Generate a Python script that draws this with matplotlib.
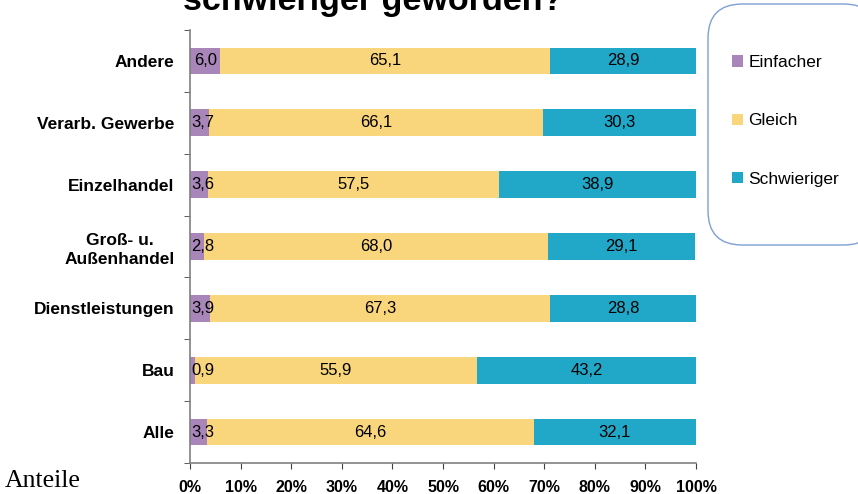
import matplotlib.pyplot as plt
from matplotlib.patches import FancyBboxPatch, Patch
import numpy as np

plt.rcParams['font.family'] = ['Liberation Sans', 'DejaVu Sans']

# Daten (Anteile in %), von oben nach unten
categories = ["Andere", "Verarb. Gewerbe", "Einzelhandel", "Groß- u.\nAußenhandel",
              "Dienstleistungen", "Bau", "Alle"]
einfacher = [6.0, 3.7, 3.6, 2.8, 3.9, 0.9, 3.3]
gleich = [65.1, 66.1, 57.5, 68.0, 67.3, 55.9, 64.6]
schwieriger = [28.9, 30.3, 38.9, 29.1, 28.8, 43.2, 32.1]
series_names = ["Einfacher", "Gleich", "Schwieriger"]
colors = ["#a886b9", "#f9d57c", "#21a7c7"]
xticks = np.arange(0, 101, 10)

fig = plt.figure(figsize=(8.58, 4.94), dpi=100)
ax = fig.add_axes([190 / 858, 1 - 463 / 494, (696 - 190) / 858, (463 - 30) / 494])

y = np.arange(len(categories))
left = np.zeros(len(categories))
for vals, col in zip([einfacher, gleich, schwieriger], colors):
    vals = np.array(vals)
    ax.barh(y, vals, left=left, height=0.43, color=col, edgecolor="none")
    for yi, l, v in zip(y, left, vals):
        lbl = f"{v:.1f}".replace(".", ",")
        # zu schmale Segmente: Beschriftung an der Achse beginnen lassen
        if l + v / 2 < 2.7:
            ax.text(0.3, yi, lbl, ha="left", va="center", fontsize=12)
        else:
            ax.text(l + v / 2, yi, lbl, ha="center", va="center", fontsize=12)
    left = left + vals

ax.set_xlim(0, 100)
ax.set_ylim(len(categories) - 0.5, -0.5)
ax.set_yticks(y)
ax.set_yticklabels(categories, fontweight="bold", fontsize=12.5, linespacing=1.3,
                   multialignment="center")
ax.set_yticks(np.arange(-0.5, len(categories)), minor=True)
ax.tick_params(axis="y", which="major", length=0, pad=11)
ax.tick_params(axis="y", which="minor", length=4, color="#404040", direction="out")
ax.set_xticks(xticks)
ax.set_xticklabels([f"{t}%" for t in xticks], fontweight="bold", fontsize=11.5)
ax.tick_params(axis="x", length=4, color="#404040", pad=8)

for s in ["top", "right"]:
    ax.spines[s].set_visible(False)
for s in ["left", "bottom"]:
    ax.spines[s].set_color("#808080")
    ax.spines[s].set_linewidth(1.2)

fig.text(183 / 858, 1 - 10 / 494, "schwieriger geworden?", fontsize=24.5, fontweight="bold",
         ha="left", va="baseline")
fig.text(5 / 858, 1 - 487 / 494, "Anteile", family="Liberation Serif", fontsize=18.5,
         ha="left", va="baseline")

# Legende mit abgerundetem Rahmen
box = FancyBboxPatch((708 / 858, 1 - 245 / 494), 170 / 858, 241 / 494,
                     boxstyle="round,pad=0,rounding_size=0.04",
                     transform=fig.transFigure, facecolor="white",
                     edgecolor="#7f9fd4", linewidth=1, clip_on=False,
                     mutation_aspect=858 / 494)
fig.patches.append(box)
handles = [Patch(facecolor=c, edgecolor="none") for c in colors]
fig.legend(handles, series_names, loc="upper left",
           bbox_to_anchor=(732 / 858, 1 - 55 / 494), frameon=False, fontsize=12.5,
           handlelength=0.63, handleheight=0.63, handletextpad=0.3, labelspacing=2.5,
           borderaxespad=0, borderpad=0)

fig.savefig("out.png", dpi=100)
